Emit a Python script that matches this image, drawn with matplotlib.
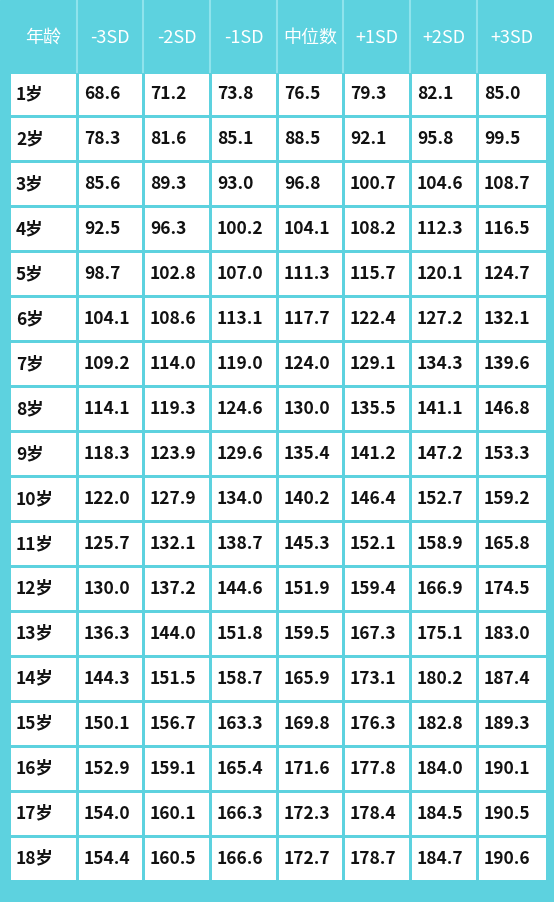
import matplotlib
matplotlib.use("Agg")
import matplotlib.pyplot as plt
from matplotlib.patches import Rectangle

plt.rcParams['font.family'] = ['Noto Sans CJK SC', 'DejaVu Sans']

headers = ["年龄", "-3SD", "-2SD", "-1SD", "中位数", "+1SD", "+2SD", "+3SD"]
ages = [f"{i}岁" for i in range(1, 19)]
sd_m3 = [68.6, 78.3, 85.6, 92.5, 98.7, 104.1, 109.2, 114.1, 118.3, 122.0, 125.7, 130.0, 136.3, 144.3, 150.1, 152.9, 154.0, 154.4]
sd_m2 = [71.2, 81.6, 89.3, 96.3, 102.8, 108.6, 114.0, 119.3, 123.9, 127.9, 132.1, 137.2, 144.0, 151.5, 156.7, 159.1, 160.1, 160.5]
sd_m1 = [73.8, 85.1, 93.0, 100.2, 107.0, 113.1, 119.0, 124.6, 129.6, 134.0, 138.7, 144.6, 151.8, 158.7, 163.3, 165.4, 166.3, 166.6]
median = [76.5, 88.5, 96.8, 104.1, 111.3, 117.7, 124.0, 130.0, 135.4, 140.2, 145.3, 151.9, 159.5, 165.9, 169.8, 171.6, 172.3, 172.7]
sd_p1 = [79.3, 92.1, 100.7, 108.2, 115.7, 122.4, 129.1, 135.5, 141.2, 146.4, 152.1, 159.4, 167.3, 173.1, 176.3, 177.8, 178.4, 178.7]
sd_p2 = [82.1, 95.8, 104.6, 112.3, 120.1, 127.2, 134.3, 141.1, 147.2, 152.7, 158.9, 166.9, 175.1, 180.2, 182.8, 184.0, 184.5, 184.7]
sd_p3 = [85.0, 99.5, 108.7, 116.5, 124.7, 132.1, 139.6, 146.8, 153.3, 159.2, 165.8, 174.5, 183.0, 187.4, 189.3, 190.1, 190.5, 190.6]
columns = [ages, sd_m3, sd_m2, sd_m1, median, sd_p1, sd_p2, sd_p3]

CYAN = "#5dd2df"
W, H = 554, 902
fig = plt.figure(figsize=(W / 100, H / 100), dpi=100)
ax = fig.add_axes([0, 0, 1, 1])
ax.set_xlim(0, W)
ax.set_ylim(H, 0)
ax.axis('off')

ax.add_patch(Rectangle((0, 0), W, H, color=CYAN))

x_edges = [9, 77, 143, 210, 277, 343, 410, 477, 547]
top, bottom = 72, 881
nrows = len(ages)
rh = (bottom - top) / nrows

# header text
for j, h in enumerate(headers):
    xc = (x_edges[j] + x_edges[j + 1]) / 2
    ax.text(xc, 38, h, color="white", fontsize=13, ha="center", va="center")
    if j > 0:
        ax.plot([x_edges[j], x_edges[j]], [0, top], color="#8fe3ec", lw=1.5)

# cells
for i in range(nrows):
    y0 = top + i * rh
    for j in range(len(columns)):
        x0 = x_edges[j]
        ax.add_patch(Rectangle((x0 + 1.5, y0 + 1.5), x_edges[j + 1] - x0 - 3, rh - 3,
                               color="white", lw=0))
        v = columns[j][i]
        s = v if isinstance(v, str) else f"{v:.1f}"
        ax.text(x0 + 7, y0 + rh / 2, s, fontsize=12.5, fontweight="bold",
                ha="left", va="center", color="#111111")

fig.savefig("out.png", dpi=100)
